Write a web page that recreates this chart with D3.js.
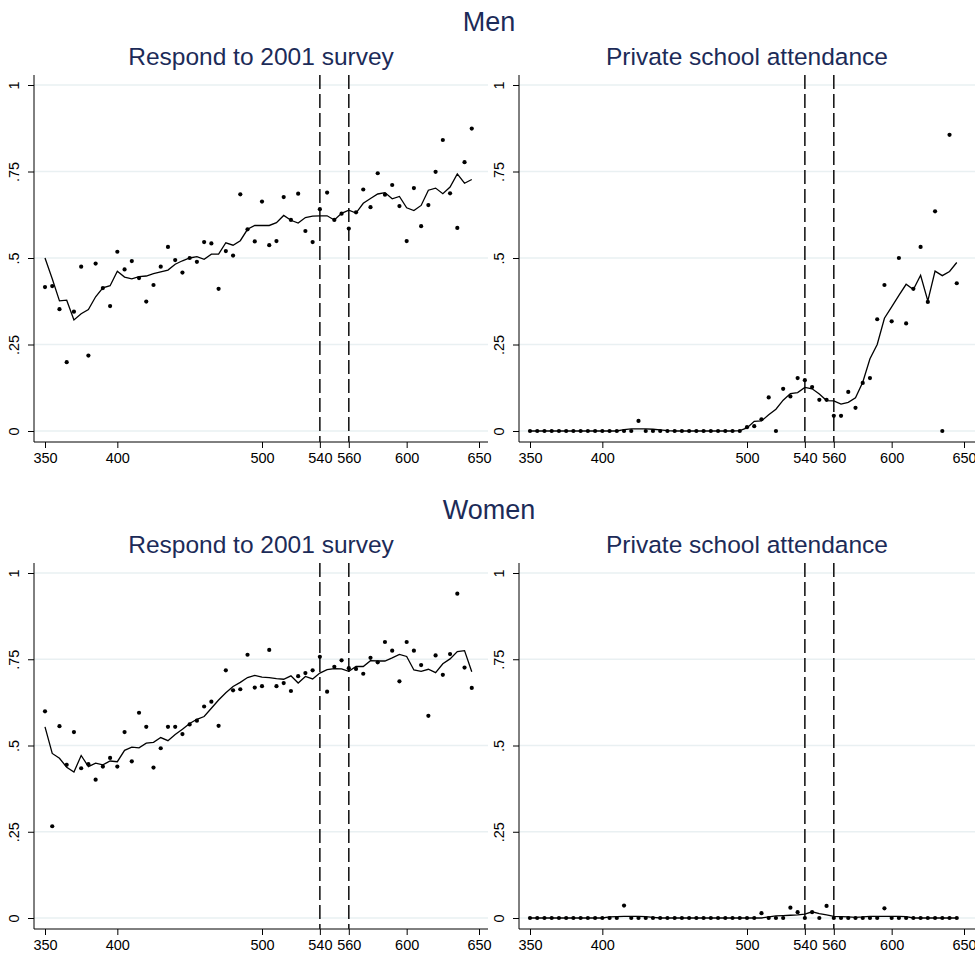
<!DOCTYPE html>
<html>
<head>
<meta charset="utf-8">
<script src="https://cdn.jsdelivr.net/npm/d3@7"></script>
<style>
body { margin:0; background:#fff; }
svg { display:block; font-family:"Liberation Sans", Arial, Helvetica, sans-serif; }
.grid { stroke:#e9f0f2; stroke-width:1.3px; }
.axisline { stroke:#000; stroke-width:1px; }
.tick line { stroke:#000; }
.tick text { font-size:14.5px; fill:#000; }
.cut { stroke:#1a1a1a; stroke-width:1.6px; stroke-dasharray:14,5; }
.fit { fill:none; stroke:#000; stroke-width:1.3px; }
.title { fill:#1c2b58; text-anchor:middle; }
</style>
</head>
<body>
<script>
var bins = [350,355,360,365,370,375,380,385,390,395,
            400,405,410,415,420,425,430,435,440,445,
            450,455,460,465,470,475,480,485,490,495,
            500,505,510,515,520,525,530,535,540,545,
            550,555,560,565,570,575,580,585,590,595,
            600,605,610,615,620,625,630,635,640,645];

var menRespondPts = [0.416,0.419,0.352,0.199,0.345,0.475,0.218,0.484,0.413,0.361,
                     0.518,0.467,0.491,0.442,0.374,0.422,0.475,0.532,0.494,0.458,
                     0.500,0.489,0.546,0.542,0.411,0.520,0.507,0.684,0.583,0.548,
                     0.663,0.537,0.549,0.676,0.610,0.686,0.578,0.546,0.641,0.689,
                     0.610,0.628,0.585,0.632,0.698,0.647,0.745,0.683,0.711,0.650,
                     0.549,0.702,0.592,0.653,0.749,0.841,0.687,0.587,0.777,0.874];
var menRespondFit = [0.500,0.440,0.376,0.378,0.321,0.339,0.351,0.388,0.414,0.420,
                     0.462,0.445,0.440,0.446,0.448,0.455,0.460,0.465,0.482,0.492,
                     0.500,0.504,0.496,0.511,0.511,0.544,0.537,0.550,0.583,0.594,
                     0.594,0.594,0.602,0.623,0.609,0.601,0.617,0.621,0.622,0.622,
                     0.610,0.629,0.638,0.630,0.658,0.672,0.685,0.689,0.671,0.678,
                     0.645,0.637,0.652,0.696,0.702,0.686,0.705,0.743,0.716,0.727];

var menPrivatePts = [0,0,0,0,0,0,0,0,0,0,
                     0,0,0,0,0,0.029,0,0,0,0,
                     0,0,0,0,0,0,0,0,0,0,
                     0.011,0.014,0.034,0.097,0,0.122,0.100,0.153,0.147,0.127,
                     0.090,0.090,0.044,0.044,0.113,0.067,0.139,0.153,0.323,0.422,
                     0.317,0.500,0.311,0.411,0.532,0.373,0.635,0,0.856,0.427];
var menPrivateFit = [0,0,0,0,0,0,0,0,0,0,
                     0,0,0,0.004,0.006,0.006,0.006,0.005,0.003,0.001,
                     0,0,0,0,0,0,0,0,0,0.001,
                     0.009,0.028,0.029,0.047,0.063,0.089,0.108,0.111,0.126,0.122,
                     0.107,0.088,0.087,0.078,0.083,0.096,0.141,0.209,0.250,0.326,
                     0.359,0.392,0.424,0.409,0.450,0.376,0.462,0.449,0.461,0.487];

var womenRespondPts = [0.599,0.266,0.556,0.444,0.539,0.434,0.446,0.401,0.439,0.464,
                       0.439,0.539,0.454,0.595,0.554,0.436,0.492,0.554,0.554,0.533,
                       0.561,0.572,0.613,0.627,0.557,0.718,0.660,0.663,0.763,0.668,
                       0.672,0.777,0.672,0.681,0.658,0.701,0.710,0.718,0.757,0.656,
                       0.728,0.747,0.724,0.722,0.708,0.754,0.741,0.800,0.775,0.686,
                       0.800,0.775,0.733,0.586,0.761,0.705,0.765,0.940,0.726,0.667];
var womenRespondFit = [0.554,0.477,0.463,0.437,0.423,0.471,0.439,0.449,0.444,0.455,
                       0.453,0.486,0.495,0.493,0.507,0.509,0.523,0.514,0.532,0.547,
                       0.564,0.576,0.584,0.608,0.632,0.653,0.671,0.683,0.697,0.703,
                       0.698,0.697,0.694,0.692,0.702,0.681,0.700,0.693,0.710,0.720,
                       0.723,0.722,0.715,0.729,0.729,0.746,0.745,0.745,0.754,0.764,
                       0.758,0.719,0.715,0.721,0.711,0.737,0.751,0.772,0.775,0.714];

var womenPrivatePts = [0,0,0,0,0,0,0,0,0,0,
                       0,0,0,0.036,0,0,0,0,0,0,
                       0,0,0,0,0,0,0,0,0,0,
                       0,0,0.014,0,0,0,0.030,0.017,0,0.017,
                       0,0.035,0,0,0,0,0,0,0,0.028,
                       0,0,0,0,0,0,0,0,0,0];
var womenPrivateFit = [0,0,0,0,0,0,0,0,0,0,
                       0,0.003,0.004,0.005,0.005,0.005,0.004,0.002,0,0,
                       0,0,0,0,0,0,0,0,0,0,
                       0,0,0,0.003,0.006,0.007,0.008,0.009,0.011,0.018,
                       0.013,0.009,0.005,0.004,0.003,0.002,0.003,0.005,0.005,0.005,
                       0.005,0.005,0.004,0,0,0,0,0,0,0];

var xTicks = [350,400,500,540,560,600,650];
var yTicks = [0,0.25,0.5,0.75,1];
var yLabels = ['0','.25','.5','.75','1'];
var cutoffs = [540,560];
var groups = ['Men','Women'];
var outcomes = ['Respond to 2001 survey','Private school attendance'];

var width = 975, height = 958;

var svg = d3.select('body').append('svg')
    .attr('width',width)
    .attr('height',height);

// plot regions: columns and rows
var cols = [{l:34,r:488},{l:519,r:975}];
var rows = [{t:75,b:442},{t:563,b:929}];

var panels = [
    {row:0,col:0,pts:menRespondPts,fit:menRespondFit},
    {row:0,col:1,pts:menPrivatePts,fit:menPrivateFit},
    {row:1,col:0,pts:womenRespondPts,fit:womenRespondFit},
    {row:1,col:1,pts:womenPrivatePts,fit:womenPrivateFit}
];

groups.forEach(function(g,i){
    svg.append('text')
        .attr('class','title')
        .attr('x',489)
        .attr('y',rows[i].t - 44)
        .style('font-size','27px')
        .text(g);
});

panels.forEach(drawPanel);

function drawPanel(p){
    var c = cols[p.col], r = rows[p.row];

    var x = d3.scaleLinear().domain([350,650]).range([c.l+11, c.l+445]);
    var y = d3.scaleLinear().domain([0,1]).range([r.b-11, r.t+10]);

    var plot = svg.append('g');

    plot.append('text')
        .attr('class','title')
        .attr('x',(c.l+c.r)/2)
        .attr('y',r.t-10)
        .style('font-size','24.5px')
        .text(outcomes[p.col]);

    plot.selectAll('.grid')
        .data(yTicks)
        .enter()
        .append('line')
        .attr('class','grid')
        .attr('x1',c.l)
        .attr('x2',c.r)
        .attr('y1',function(d){return y(d);})
        .attr('y2',function(d){return y(d);});

    // y axis
    var yAxis = plot.append('g')
        .attr('transform','translate('+c.l+',0)')
        .call(d3.axisLeft(y)
            .tickValues(yTicks)
            .tickSize(6)
            .tickFormat(function(d,i){return yLabels[i];}));
    yAxis.select('.domain').remove();
    yAxis.selectAll('.tick text')
        .attr('x',0)
        .attr('dy','0.35em')
        .attr('text-anchor','middle')
        .attr('transform','translate(-20,0) rotate(-90)');

    // x axis
    var xAxis = plot.append('g')
        .attr('transform','translate(0,'+r.b+')')
        .call(d3.axisBottom(x)
            .tickValues(xTicks)
            .tickSize(6)
            .tickPadding(5)
            .tickFormat(d3.format('d')));
    xAxis.select('.domain').remove();

    plot.append('line')
        .attr('class','axisline')
        .attr('x1',c.l).attr('x2',c.l)
        .attr('y1',r.t).attr('y2',r.b);
    plot.append('line')
        .attr('class','axisline')
        .attr('x1',c.l).attr('x2',c.r)
        .attr('y1',r.b).attr('y2',r.b);

    plot.selectAll('.cut')
        .data(cutoffs)
        .enter()
        .append('line')
        .attr('class','cut')
        .attr('x1',function(d){return x(d);})
        .attr('x2',function(d){return x(d);})
        .attr('y1',r.t)
        .attr('y2',r.b);

    var line = d3.line()
        .x(function(d,i){return x(bins[i]);})
        .y(function(d){return y(d);});

    plot.append('path')
        .datum(p.fit)
        .attr('class','fit')
        .attr('d',line);

    plot.selectAll('.pt')
        .data(p.pts)
        .enter()
        .append('circle')
        .attr('class','pt')
        .attr('cx',function(d,i){return x(bins[i]);})
        .attr('cy',function(d){return y(d);})
        .attr('r',2.1)
        .style('fill','#000');
}
</script>
</body>
</html>
